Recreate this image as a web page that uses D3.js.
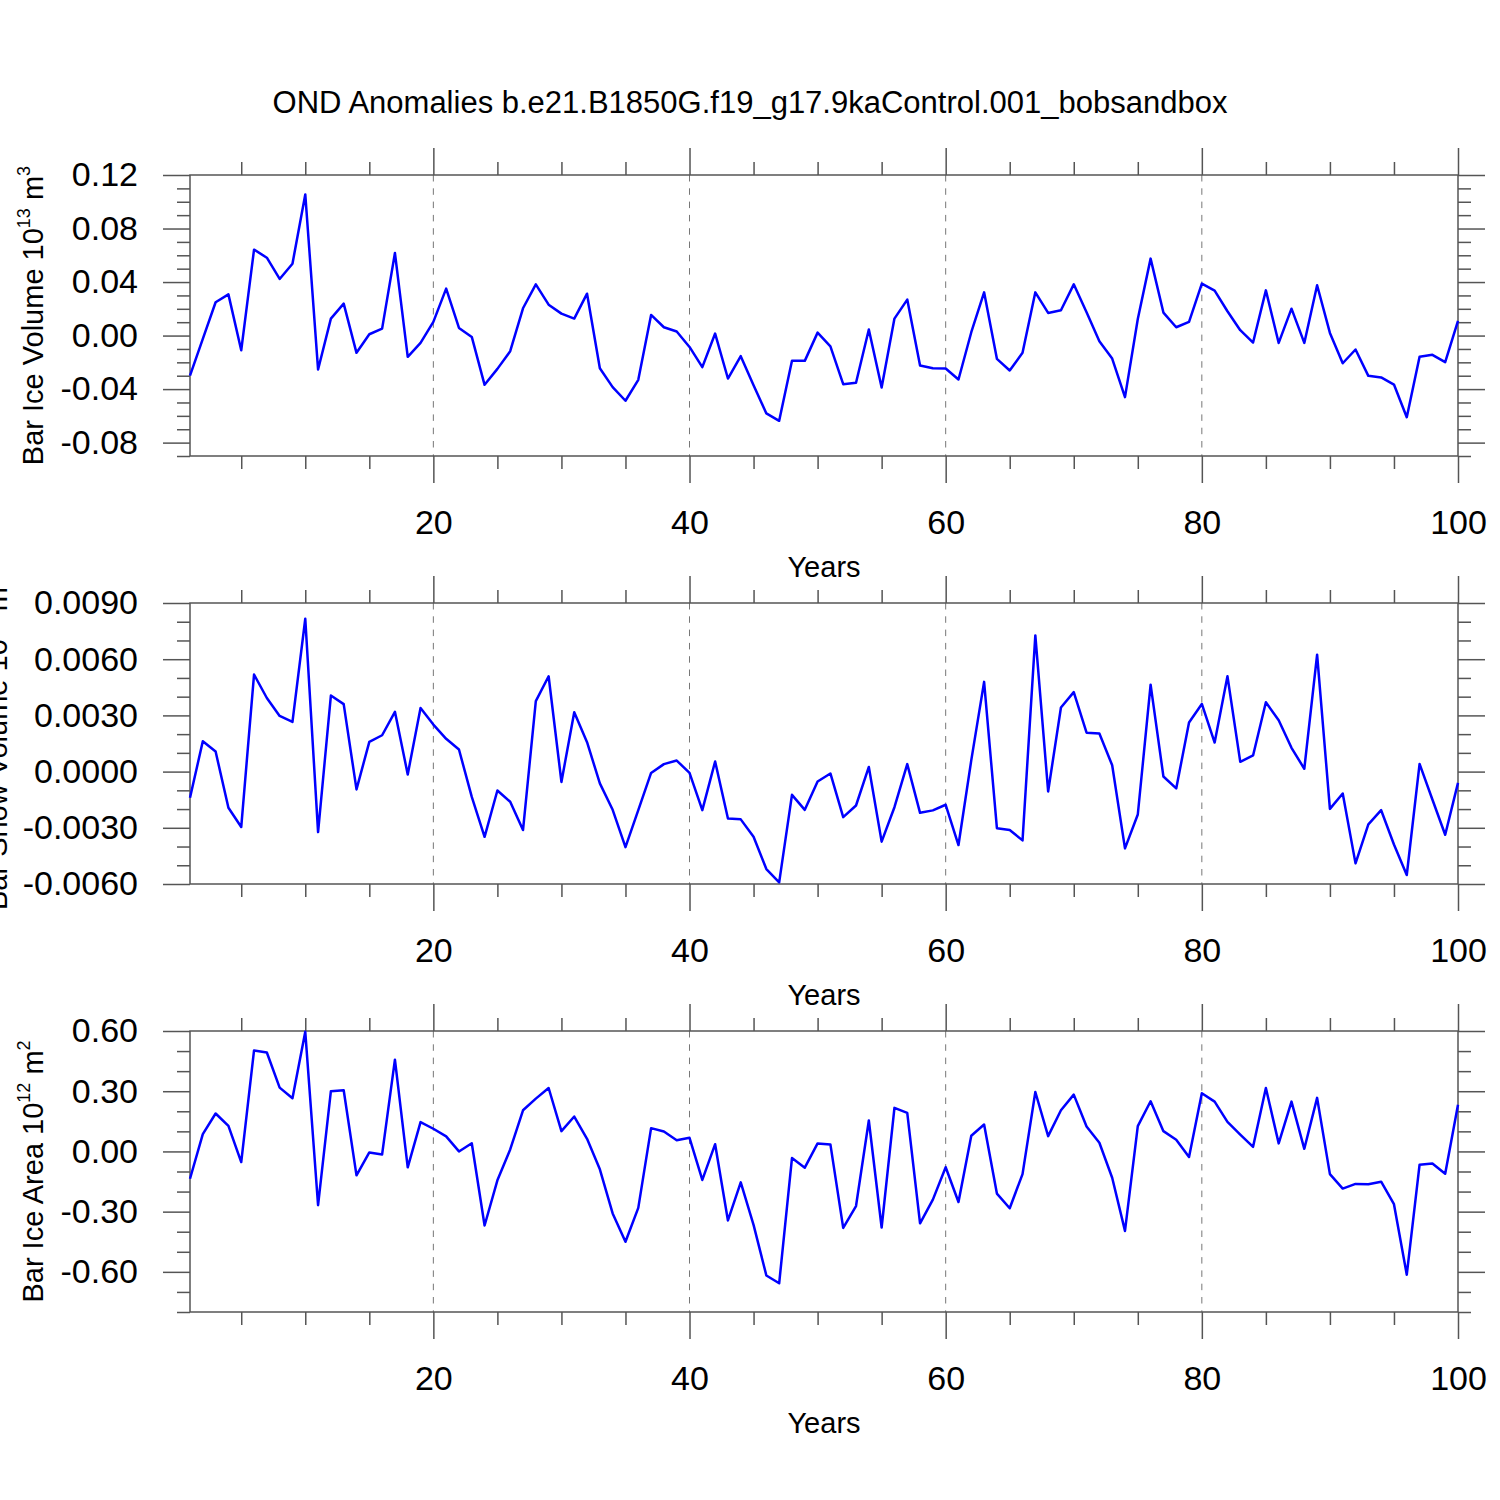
<!DOCTYPE html>
<html>
<head>
<meta charset="utf-8">
<script src="https://cdn.jsdelivr.net/npm/d3@7"></script>
<style>
  body { margin: 0; background: #fff; }
  text { font-family: "Liberation Sans", Arial, Helvetica, sans-serif; }
</style>
</head>
<body>
<svg id="canvas"></svg>
<script>
// years on the x axis
let years = d3.range(1, 101);
let xMajorTicks = [20, 40, 60, 80, 100];
let xMinorTicks = [5, 10, 15, 25, 30, 35, 45, 50, 55, 65, 70, 75, 85, 90, 95];
let gridYears = [20, 40, 60, 80];

// OND anomalies, one value per year
let iceVolume = [
  -0.030, -0.0025, 0.0249, 0.0308, -0.011, 0.0642, 0.0582, 0.0423, 0.0537, 0.1055,
  -0.0254, 0.0127, 0.0239, -0.0129, 0.001, 0.0052, 0.0617, -0.0159, -0.0055, 0.0102,
  0.0351, 0.0057, -0.001, -0.0368, -0.0249, -0.0117, 0.0204, 0.0383, 0.0231, 0.0164,
  0.0127, 0.0313, -0.0244, -0.0385, -0.0487, -0.0331, 0.0154, 0.0062, 0.003, -0.0085,
  -0.0236, 0.0015, -0.0321, -0.0154, -0.0371, -0.0582, -0.0637, -0.0189, -0.0189, 0.0022,
  -0.008, -0.0363, -0.0353, 0.0045, -0.0388, 0.0127, 0.0269, -0.0224, -0.0244, -0.0246,
  -0.0328, 0.0025, 0.0323, -0.0174, -0.0261, -0.0129, 0.0323, 0.0169, 0.0189, 0.0383,
  0.0174, -0.0042, -0.0172, -0.046, 0.0124, 0.0575, 0.0172, 0.0062, 0.0102, 0.0388,
  0.0336, 0.0182, 0.004, -0.0052, 0.0338, -0.0055, 0.0201, -0.0055, 0.0376, 0.002,
  -0.0207, -0.0104, -0.0301, -0.0313, -0.0366, -0.061, -0.0159, -0.0144, -0.0199, 0.011
];
let snowVolume = [
  -0.0014, 0.00162, 0.00107, -0.00193, -0.00296, 0.00518, 0.00393, 0.00297, 0.00265, 0.00816,
  -0.00323, 0.00406, 0.0036, -0.00095, 0.00159, 0.00194, 0.00319, -0.00015, 0.0034, 0.00251,
  0.00175, 0.00118, -0.00135, -0.00348, -0.00101, -0.00161, -0.00312, 0.00376, 0.00509, -0.00055,
  0.00317, 0.00157, -0.00063, -0.00204, -0.00403, -0.00206, -0.00007, 0.0004, 0.00059, -0.00007,
  -0.00206, 0.00054, -0.0025, -0.00255, -0.00348, -0.0052, -0.00591, -0.00124, -0.00204, -0.00053,
  -0.0001, -0.00243, -0.00181, 0.00025, -0.00374, -0.0019, 0.0004, -0.0022, -0.00207, -0.00177,
  -0.00392, 0.00061, 0.00479, -0.00302, -0.00312, -0.00367, 0.00727, -0.00106, 0.00342, 0.00424,
  0.00208, 0.00203, 0.00034, -0.0041, -0.00229, 0.00464, -0.00026, -0.0009, 0.00262, 0.00361,
  0.00155, 0.00509, 0.00052, 0.00086, 0.0037, 0.00274, 0.00127, 0.00015, 0.00624, -0.00199,
  -0.00117, -0.0049, -0.00282, -0.00206, -0.00389, -0.00552, 0.00041, -0.00149, -0.00337, -0.0006
];
let iceArea = [
  -0.136, 0.086, 0.189, 0.127, -0.053, 0.503, 0.493, 0.318, 0.265, 0.596,
  -0.268, 0.300, 0.305, -0.119, -0.005, -0.015, 0.457, -0.079, 0.146, 0.113,
  0.075, 0.000, 0.041, -0.369, -0.144, 0.010, 0.205, 0.263, 0.316, 0.101,
  0.174, 0.063, -0.089, -0.309, -0.450, -0.281, 0.116, 0.099, 0.056, 0.068,
  -0.142, 0.036, -0.344, -0.154, -0.366, -0.618, -0.657, -0.033, -0.081, 0.040,
  0.035, -0.381, -0.272, 0.154, -0.379, 0.217, 0.192, -0.358, -0.240, -0.079,
  -0.252, 0.078, 0.134, -0.210, -0.283, -0.113, 0.296, 0.076, 0.205, 0.283,
  0.124, 0.043, -0.131, -0.396, 0.126, 0.250, 0.101, 0.058, -0.028, 0.290,
  0.248, 0.147, 0.084, 0.023, 0.316, 0.040, 0.248, 0.013, 0.267, -0.113,
  -0.185, -0.162, -0.164, -0.151, -0.263, -0.614, -0.066, -0.060, -0.111, 0.233
];

// y axis ticks per panel
let volMajor = [-0.08, -0.04, 0.00, 0.04, 0.08, 0.12];
let volMinor = [-0.09, -0.07, -0.06, -0.05, -0.03, -0.02, -0.01, 0.01, 0.02, 0.03, 0.05, 0.06, 0.07, 0.09, 0.10, 0.11];
let snowMajor = [-0.006, -0.003, 0.000, 0.003, 0.006, 0.009];
let snowMinor = [-0.005, -0.004, -0.002, -0.001, 0.001, 0.002, 0.004, 0.005, 0.007, 0.008];
let areaMajor = [-0.6, -0.3, 0.0, 0.3, 0.6];
let areaMinor = [-0.8, -0.7, -0.5, -0.4, -0.2, -0.1, 0.1, 0.2, 0.4, 0.5];

let title = "OND Anomalies b.e21.B1850G.f19_g17.9kaControl.001_bobsandbox";

let width = 1500;
let height = 1500;
let left = 190, right = 1458;
let panelH = 281;

let canvas = d3.select('#canvas').attr('width', width).attr('height', height);

let xScale = d3.scaleLinear().domain([1, 100]).range([left, right]);

canvas.append('text')
  .attr('x', 750).attr('y', 113)
  .attr('text-anchor', 'middle')
  .attr('font-size', 31)
  .text(title);

let panels = [
  { values: iceVolume, top: 175, domain: [-0.09, 0.12], major: volMajor, minor: volMinor, fmt: d3.format(".2f"),
    label: ["Bar Ice Volume 10", "13", " m", "3"], labelX: 43 },
  { values: snowVolume, top: 603, domain: [-0.006, 0.009], major: snowMajor, minor: snowMinor, fmt: d3.format(".4f"),
    label: ["Bar Snow Volume 10", "13", " m", "3"], labelX: 7 },
  { values: iceArea, top: 1031, domain: [-0.8, 0.6], major: areaMajor, minor: areaMinor, fmt: d3.format(".2f"),
    label: ["Bar Ice Area 10", "12", " m", "2"], labelX: 43 }
];

let drawPanel = (p) => {
  let bottom = p.top + panelH;
  let yScale = d3.scaleLinear().domain(p.domain).range([bottom, p.top]);
  let g = canvas.append('g');

  // dashed grid
  g.selectAll('line.grid')
    .data(gridYears)
    .enter()
    .append('line')
    .attr('x1', d => xScale(d)).attr('x2', d => xScale(d))
    .attr('y1', p.top).attr('y2', bottom)
    .attr('stroke', '#777')
    .attr('stroke-width', 1)
    .attr('stroke-dasharray', '6.5,6.8');

  let fmtTick = (d) => p.fmt(d).replace('\u2212', '-');

  // y axes, ticks pointing out
  g.append('g').attr('transform', `translate(${left},0)`)
    .call(d3.axisLeft(yScale).tickValues(p.minor).tickSize(13).tickFormat(''));
  g.append('g').attr('transform', `translate(${left},0)`)
    .call(d3.axisLeft(yScale).tickValues(p.major).tickSize(27).tickPadding(25).tickFormat(fmtTick));
  g.append('g').attr('transform', `translate(${right},0)`)
    .call(d3.axisRight(yScale).tickValues(p.minor).tickSize(13).tickFormat(''));
  g.append('g').attr('transform', `translate(${right},0)`)
    .call(d3.axisRight(yScale).tickValues(p.major).tickSize(27).tickFormat(''));

  // x axes
  g.append('g').attr('transform', `translate(0,${p.top})`)
    .call(d3.axisTop(xScale).tickValues(xMinorTicks).tickSize(13).tickFormat(''));
  g.append('g').attr('transform', `translate(0,${p.top})`)
    .call(d3.axisTop(xScale).tickValues(xMajorTicks).tickSize(27).tickFormat(''));
  g.append('g').attr('transform', `translate(0,${bottom})`)
    .call(d3.axisBottom(xScale).tickValues(xMinorTicks).tickSize(13).tickFormat(''));
  g.append('g').attr('transform', `translate(0,${bottom})`)
    .call(d3.axisBottom(xScale).tickValues(xMajorTicks).tickSize(27).tickPadding(27).tickFormat(d3.format('d')));

  g.selectAll('.domain').remove();
  g.selectAll('.tick line').attr('stroke', '#555').attr('stroke-width', 1.5);
  g.selectAll('.tick text').attr('font-size', 34).attr('fill', '#000')
    .attr('font-family', '"Liberation Sans", Arial, sans-serif');

  // frame
  g.append('rect')
    .attr('x', left).attr('y', p.top)
    .attr('width', right - left).attr('height', panelH)
    .attr('fill', 'none')
    .attr('stroke', '#555')
    .attr('stroke-width', 1.5);

  // series
  let line = d3.line()
    .x((d, i) => xScale(years[i]))
    .y(d => yScale(d));
  g.append('path')
    .datum(p.values)
    .attr('d', line)
    .attr('fill', 'none')
    .attr('stroke', '#0000ff')
    .attr('stroke-width', 2.5)
    .attr('stroke-linejoin', 'round');

  // axis titles
  g.append('text')
    .attr('x', (left + right) / 2).attr('y', bottom + 121)
    .attr('text-anchor', 'middle')
    .attr('font-size', 29)
    .text('Years');

  let yl = g.append('text')
    .attr('transform', `translate(${p.labelX},${p.top + panelH / 2}) rotate(-90)`)
    .attr('text-anchor', 'middle')
    .attr('font-size', 29);
  yl.append('tspan').text(p.label[0]);
  yl.append('tspan').attr('font-size', 18).attr('dy', -13).text(p.label[1]);
  yl.append('tspan').attr('dy', 13).text(p.label[2]);
  yl.append('tspan').attr('font-size', 18).attr('dy', -13).text(p.label[3]);
};

panels.forEach(drawPanel);
</script>
</body>
</html>
